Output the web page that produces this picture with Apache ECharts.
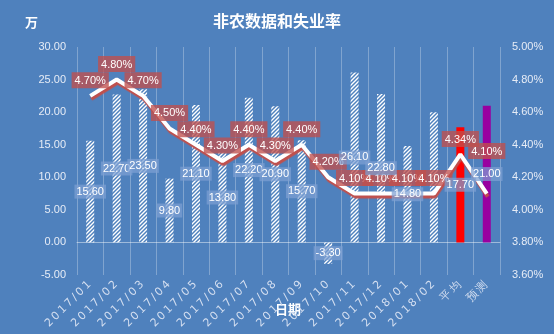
<!DOCTYPE html>
<html>
<head>
<meta charset="utf-8">
<script src="https://cdn.jsdelivr.net/npm/echarts@6/dist/echarts.min.js"></script>
<style>
html,body{margin:0;padding:0;background:#4F81BD;}
#c{width:554px;height:334px;}
</style>
</head>
<body>
<div id="c"></div>
<script>
const categories = ['2017/01','2017/02','2017/03','2017/04','2017/05','2017/06','2017/07','2017/08','2017/09','2017/10','2017/11','2017/12','2018/01','2018/02','平均','预测'];
const payrolls = [15.6, 22.7, 23.5, 9.8, 21.1, 13.8, 22.2, 20.9, 15.7, -3.3, 26.1, 22.8, 14.8, 20.0, 17.7, 21.0];
const unemployment = [4.70, 4.80, 4.70, 4.50, 4.40, 4.30, 4.40, 4.30, 4.40, 4.20, 4.10, 4.10, 4.10, 4.10, 4.34, 4.10];
const leftTicks = { min: -5, max: 30, interval: 5 };
const rightTicks = { min: 3.6, max: 5.0, interval: 0.2 };

// hatch pattern
const pc = document.createElement('canvas');
pc.width = 4; pc.height = 4;
const g = pc.getContext('2d');
g.strokeStyle = '#ffffff';
g.lineWidth = 1.4;
g.beginPath();
g.moveTo(-1, 5); g.lineTo(5, -1);
g.moveTo(-1, 1); g.lineTo(1, -1);
g.moveTo(3, 5); g.lineTo(5, 3);
g.stroke();
const hatch = { image: pc, repeat: 'repeat' };

const specialColors = { '平均': '#FF0000', '预测': '#9900A0' };
const hiddenBarLabels = ['2018/02'];

const barData = payrolls.map((v, i) => ({ value: v, itemStyle: { color: specialColors[categories[i]] || hatch } }));
const barLabelData = payrolls.map((v, i) => {
  const item = { value: v };
  if (hiddenBarLabels.indexOf(categories[i]) >= 0) item.label = { show: false };
  return item;
});
const lineData = unemployment.slice();
const lastIdx = lineData.length - 1;

const chart = echarts.init(document.getElementById('c'));
chart.setOption({
  backgroundColor: '#4F81BD',
  animation: false,
  title: {
    text: '非农数据和失业率',
    left: 'center',
    top: 8,
    textStyle: { color: '#ffffff', fontSize: 16, fontWeight: 'bold', fontFamily: 'Noto Sans CJK SC' }
  },
  graphic: [
    { type: 'text', left: 25, top: 16, style: { text: '万', fill: '#ffffff', font: 'bold 13px "Noto Sans CJK SC"' } },
    { type: 'text', left: 275, top: 303, style: { text: '日期', fill: '#ffffff', font: 'bold 13px "Noto Sans CJK SC"' } }
  ],
  grid: { left: 77, right: 54, top: 47, bottom: 59 },
  xAxis: {
    type: 'category',
    data: categories,
    boundaryGap: true,
    axisLine: { onZero: true, lineStyle: { color: 'rgba(255,255,255,0.45)', width: 1 } },
    axisTick: { show: false },
    splitLine: { show: true, lineStyle: { color: 'rgba(255,255,255,0.28)', width: 1 } },
    axisLabel: {
      rotate: 45,
      interval: 0,
      margin: 7,
      formatter: v => v.split('').map(ch => '{c|' + ch + '}').join(''),
      rich: { c: { color: '#d3def0', fontSize: 11, fontFamily: 'DejaVu Sans', padding: [0, 1.2, 0, 1.2] } }
    }
  },
  yAxis: [
    {
      type: 'value',
      min: leftTicks.min, max: leftTicks.max, interval: leftTicks.interval,
      axisLine: { show: false }, axisTick: { show: false }, splitLine: { show: false },
      axisLabel: { color: '#e6ecf6', fontSize: 11, fontFamily: 'Liberation Sans', margin: 11, formatter: v => v.toFixed(2) }
    },
    {
      type: 'value',
      min: rightTicks.min, max: rightTicks.max, interval: rightTicks.interval,
      axisLine: { show: false }, axisTick: { show: false }, splitLine: { show: false },
      axisLabel: { color: '#e6ecf6', fontSize: 11, fontFamily: 'Liberation Sans', margin: 12, formatter: v => v.toFixed(2) + '%' }
    }
  ],
  series: [
    {
      type: 'bar',
      data: barData,
      barWidth: 8,
      z: 2
    },
    {
      type: 'line',
      yAxisIndex: 1,
      data: lineData,
      z: 3,
      symbol: 'circle',
      symbolSize: 1,
      showSymbol: true,
      itemStyle: { color: 'rgba(255,255,255,0)' },
      smooth: false,
      lineStyle: {
        color: '#ffffff', width: 4,
        shadowColor: 'rgba(192,80,77,1)', shadowOffsetX: 1, shadowOffsetY: 3, shadowBlur: 1
      },
      label: {
        show: true,
        position: 'top',
        distance: 7,
        color: '#ffffff',
        fontSize: 11,
        fontFamily: 'Liberation Sans',
        backgroundColor: 'rgba(192,80,77,0.78)',
        padding: [3, 3, 2, 3],
        formatter: p => Number(p.value).toFixed(2) + '%'
      },
      labelLayout: p => (p.dataIndex === lastIdx ? { dy: -27, hideOverlap: false } : { hideOverlap: false })
    },
    {
      type: 'bar',
      data: barLabelData,
      barWidth: 8,
      barGap: '-100%',
      z: 4,
      silent: true,
      itemStyle: { color: 'rgba(0,0,0,0)' },
      label: {
        show: true,
        position: 'inside',
        color: '#ffffff',
        fontSize: 11,
        fontFamily: 'Liberation Sans',
        backgroundColor: 'rgba(125,160,210,0.72)',
        padding: [2, 2, 1, 2],
        formatter: p => Number(p.value).toFixed(2)
      }
    }
  ]
});
</script>
</body>
</html>
